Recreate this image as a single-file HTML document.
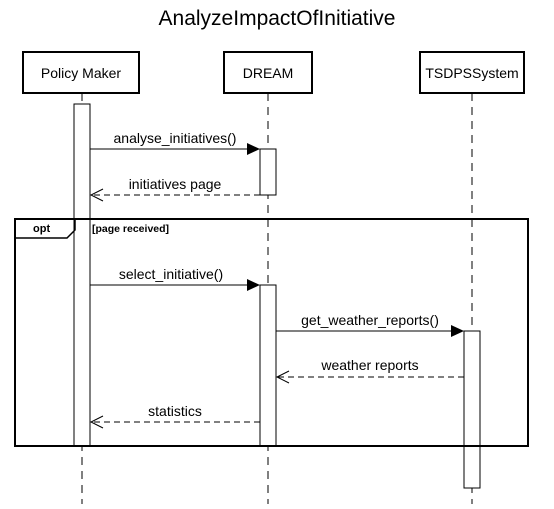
<!DOCTYPE html>
<html><head><style>body{margin:0;background:#fff}</style></head><body>
<svg width="554" height="504" xmlns="http://www.w3.org/2000/svg" font-family="Liberation Sans, Arial, sans-serif">
<rect width="554" height="504" fill="#fff"/>
<text x="277" y="25" font-size="21" text-anchor="middle">AnalyzeImpactOfInitiative</text>
<g stroke="#000" stroke-width="1" stroke-dasharray="8,6">
<line x1="82" y1="93" x2="82" y2="504"/>
<line x1="268" y1="93" x2="268" y2="504"/>
<line x1="472" y1="93" x2="472" y2="504"/>
</g>
<g fill="#fff" stroke="#000" stroke-width="2">
<rect x="23" y="52" width="116" height="41"/>
<rect x="224" y="52" width="88" height="41"/>
<rect x="420" y="52" width="104" height="41"/>
</g>
<g font-size="14" text-anchor="middle">
<text x="81" y="78">Policy Maker</text>
<text x="268" y="78">DREAM</text>
<text x="472" y="78">TSDPSSystem</text>
</g>
<g fill="#fff" stroke="#000">
<rect x="74" y="104" width="16" height="342"/>
<rect x="260" y="149" width="16" height="46"/>
<rect x="260" y="285" width="16" height="161"/>
<rect x="464" y="331" width="16" height="157"/>
</g>
<path d="M15 219 H528 V446 H15 Z" fill="none" stroke="#000" stroke-width="2"/>
<path d="M15 238 H67 L75 230 V219" fill="none" stroke="#000" stroke-width="1.5"/>
<text x="33" y="232" font-size="11" font-weight="bold">opt</text>
<text x="92" y="232" font-size="10.5" font-weight="bold">[page received]</text>
<g stroke="#000" fill="none">
<line x1="90" y1="149" x2="248" y2="149"/>
<line x1="90" y1="285" x2="248" y2="285"/>
<line x1="276" y1="331" x2="452" y2="331"/>
<g stroke-dasharray="6,4">
<line x1="260" y1="195" x2="91" y2="195"/>
<line x1="464" y1="377" x2="277" y2="377"/>
<line x1="260" y1="422" x2="91" y2="422"/>
</g>
<path d="M103 189 L91 195 L103 201"/>
<path d="M289 371 L277 377 L289 383"/>
<path d="M103 416 L91 422 L103 428"/>
</g>
<g fill="#000">
<path d="M247 143 L260 149 L247 155 Z"/>
<path d="M247 279 L260 285 L247 291 Z"/>
<path d="M451 325 L464 331 L451 337 Z"/>
</g>
<g font-size="14" text-anchor="middle">
<text x="175" y="143">analyse_initiatives()</text>
<text x="175" y="189">initiatives page</text>
<text x="171" y="279">select_initiative()</text>
<text x="370" y="325">get_weather_reports()</text>
<text x="370" y="370">weather reports</text>
<text x="175" y="416">statistics</text>
</g>
</svg>
</body></html>
